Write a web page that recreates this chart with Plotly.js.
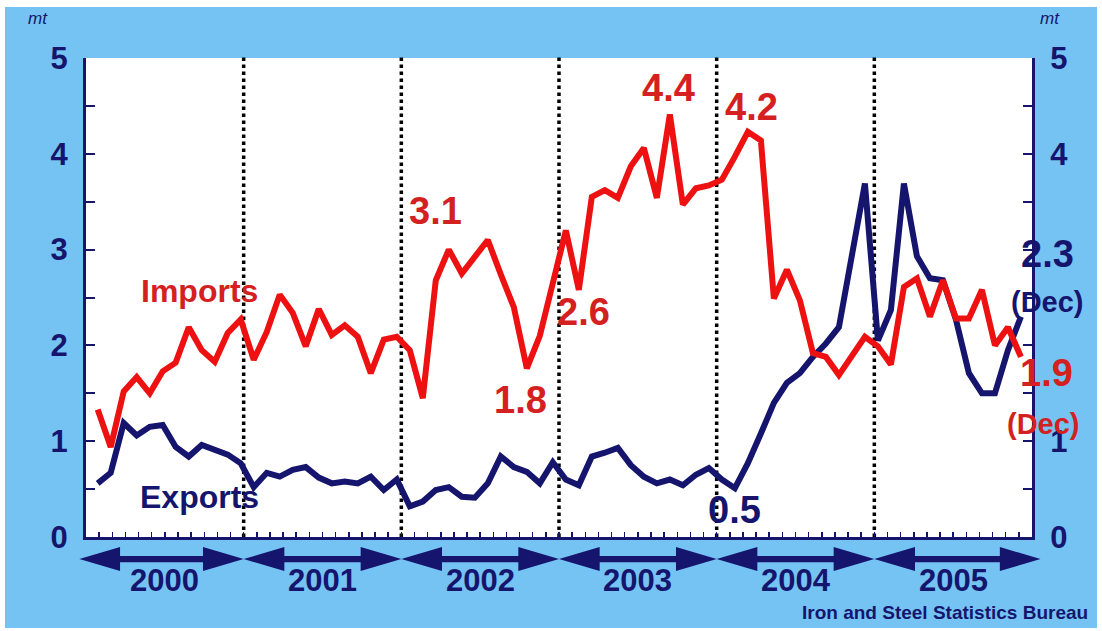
<!DOCTYPE html>
<html>
<head>
<meta charset="utf-8">
<script src="https://cdn.plot.ly/plotly-3.0.1.min.js"></script>
<style>
  html, body { margin: 0; padding: 0; background: #ffffff; }
  #chart { position: absolute; left: 5px; top: 7px; width: 1092px; height: 621px; }
</style>
</head>
<body>
<div id="chart"></div>
<script>
// ---- data (monthly, Jan 2000 - Dec 2005), million tonnes ----
const years = ['2000', '2001', '2002', '2003', '2004', '2005'];
const imports = [
  1.33, 0.94, 1.52, 1.67, 1.50, 1.73, 1.82, 2.19, 1.95, 1.83, 2.13, 2.27,
  1.85, 2.14, 2.53, 2.34, 1.99, 2.38, 2.11, 2.21, 2.09, 1.71, 2.06, 2.09,
  1.95, 1.45, 2.68, 3.00, 2.75, 2.93, 3.10, 2.74, 2.40, 1.76, 2.10, 2.65,
  3.20, 2.58, 3.55, 3.62, 3.54, 3.87, 4.06, 3.54, 4.41, 3.47, 3.64, 3.67,
  3.73, 3.97, 4.23, 4.14, 2.49, 2.79, 2.47, 1.92, 1.88, 1.69, 1.88, 2.09,
  1.99, 1.80, 2.61, 2.70, 2.30, 2.68, 2.28, 2.28, 2.58, 2.00, 2.19, 1.88
];
const exports = [
  0.56, 0.67, 1.19, 1.06, 1.15, 1.17, 0.94, 0.84, 0.96, 0.91, 0.86, 0.77,
  0.52, 0.67, 0.63, 0.70, 0.73, 0.62, 0.56, 0.58, 0.56, 0.63, 0.49, 0.60,
  0.32, 0.37, 0.49, 0.52, 0.42, 0.41, 0.56, 0.84, 0.73, 0.68, 0.56, 0.78,
  0.60, 0.54, 0.84, 0.88, 0.93, 0.75, 0.63, 0.56, 0.60, 0.54, 0.65, 0.72,
  0.60, 0.51, 0.77, 1.08, 1.40, 1.61, 1.71, 1.88, 2.02, 2.19, 2.93, 3.69,
  2.05, 2.37, 3.69, 2.93, 2.70, 2.68, 2.27, 1.71, 1.50, 1.50, 1.95, 2.30
];
const yTicks = [0, 1, 2, 3, 4, 5];
// right-hand tick labels 2 and 3 are covered by the "(Dec)" value labels in the original
const rightTickText = ['0', '1', '', '', '4', '5'];
const unitLabel = 'mt';
const sourceText = 'Iron and Steel Statistics Bureau';
const importsLabel = 'Imports';
const exportsLabel = 'Exports';
const decLabel = '(Dec)';

// ---- styling ----
const NAVY = '#15156e';
const RED = '#ee1111';
const LABEL_RED = '#d42020';
const BLUE_BG = '#74c3f3';
const FONT = 'Liberation Sans, Arial, sans-serif';

const monthIdx = imports.map((_, i) => i);
const X0 = -0.9, X1 = 71.85;
const span = X1 - X0;
const monthTicks = [];
for (let k = 0; k <= 72; k++) monthTicks.push(X0 + k * span / 72);

const traces = [
  { x: monthIdx, y: exports, type: 'scatter', mode: 'lines', name: exportsLabel,
    line: { color: NAVY, width: 6 }, xaxis: 'x', yaxis: 'y', hoverinfo: 'skip' },
  { x: monthIdx, y: imports, type: 'scatter', mode: 'lines', name: importsLabel,
    line: { color: RED, width: 6 }, xaxis: 'x', yaxis: 'y2', hoverinfo: 'skip' }
];

const shapes = [];
// year separators (dotted)
for (let k = 1; k < years.length; k++) {
  const xp = k / years.length;
  shapes.push({ type: 'line', xref: 'paper', yref: 'paper', x0: xp, x1: xp, y0: 0, y1: 1.008,
    line: { color: '#000000', width: 3.5, dash: 'dot' }, layer: 'below' });
}
// double-headed arrows under each year
const yc = -0.046, hh = 0.025, st = 0.0065, hl = 0.043;
years.forEach((yr, k) => {
  let xs = k / years.length, xe = (k + 1) / years.length;
  if (k === 0) xs -= 0.007;
  if (k === years.length - 1) xe += 0.009;
  const p = `M ${xs} ${yc} L ${xs + hl} ${yc + hh} L ${xs + hl} ${yc + st} L ${xe - hl} ${yc + st} ` +
            `L ${xe - hl} ${yc + hh} L ${xe} ${yc} L ${xe - hl} ${yc - hh} L ${xe - hl} ${yc - st} ` +
            `L ${xs + hl} ${yc - st} L ${xs + hl} ${yc - hh} Z`;
  shapes.push({ type: 'path', xref: 'paper', yref: 'paper', path: p,
    fillcolor: NAVY, line: { color: NAVY, width: 0 } });
});

function ann(text, x, y, color, size, extra) {
  return Object.assign({ text: text, x: x, y: y, xref: 'paper', yref: 'paper', showarrow: false,
    font: { family: FONT, size: size, color: color, weight: 'bold' }, xanchor: 'center', yanchor: 'middle' }, extra || {});
}
const annotations = [
  ann(importsLabel, 0.120, 0.513, LABEL_RED, 32),
  ann(exportsLabel, 0.120, 0.083, NAVY, 32),
  ann(imports[30].toFixed(1), 0.369, 0.680, LABEL_RED, 38),
  ann(imports[33].toFixed(1), 0.459, 0.286, LABEL_RED, 38),
  ann(imports[37].toFixed(1), 0.526, 0.470, LABEL_RED, 38),
  ann(imports[44].toFixed(1), 0.616, 0.937, LABEL_RED, 38),
  ann(imports[50].toFixed(1), 0.703, 0.898, LABEL_RED, 38),
  ann(exports[49].toFixed(1), 0.686, 0.056, NAVY, 38),
  ann(exports[71].toFixed(1), 1.016, 0.591, NAVY, 38),
  ann(decLabel, 1.016, 0.491, NAVY, 29),
  ann(imports[71].toFixed(1), 1.015, 0.342, LABEL_RED, 38),
  ann(decLabel, 1.012, 0.236, LABEL_RED, 29),
  ann(unitLabel, -0.051, 1.083, NAVY, 17, { font: { family: FONT, size: 17, color: NAVY, style: 'italic' } }),
  ann(unitLabel, 1.019, 1.083, NAVY, 17, { font: { family: FONT, size: 17, color: NAVY, style: 'italic' } }),
  ann(sourceText, 1.061, -0.157, NAVY, 19, { xanchor: 'right' })
];
years.forEach((yr, k) => {
  annotations.push(ann(yr, (k + 0.5) / years.length, -0.091, NAVY, 31));
});

const yAxisBase = {
  range: [0, 5], tickvals: yTicks, ticktext: yTicks.map(String),
  ticks: 'inside', ticklen: 9, tickwidth: 2, tickcolor: NAVY,
  minor: { dtick: 0.5, tick0: 0, ticks: 'inside', ticklen: 9, tickwidth: 2, tickcolor: NAVY, showgrid: false },
  showline: true, linecolor: NAVY, linewidth: 3,
  showgrid: false, zeroline: false, fixedrange: true,
  tickfont: { family: FONT, size: 31, color: NAVY, weight: 'bold' },
  ticklabelstandoff: 9
};

const layout = {
  width: 1092, height: 621,
  margin: { l: 81, r: 65, t: 51, b: 91 },
  paper_bgcolor: BLUE_BG, plot_bgcolor: '#ffffff',
  showlegend: false,
  xaxis: {
    range: [X0, X1], tickvals: monthTicks, showticklabels: false,
    ticks: 'inside', ticklen: 5, tickwidth: 1.5, tickcolor: NAVY,
    showline: true, linecolor: NAVY, linewidth: 3,
    showgrid: false, zeroline: false, fixedrange: true
  },
  yaxis: Object.assign({}, yAxisBase, { side: 'left' }),
  yaxis2: Object.assign({}, yAxisBase, { side: 'right', overlaying: 'y', ticktext: rightTickText }),
  shapes: shapes,
  annotations: annotations
};

Plotly.newPlot('chart', traces, layout, { displayModeBar: false, staticPlot: true });
</script>
</body>
</html>
